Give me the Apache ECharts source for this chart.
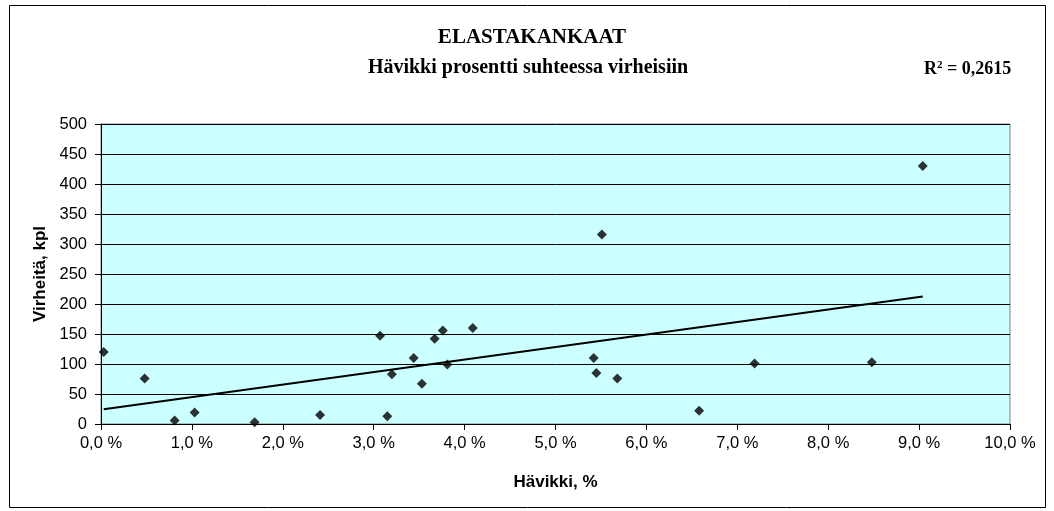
<!DOCTYPE html>
<html>
<head>
<meta charset="utf-8">
<script src="https://cdn.jsdelivr.net/npm/echarts@6/dist/echarts.min.js"></script>
<style>
html, body { margin: 0; padding: 0; background: #fff; }
#chart { width: 1054px; height: 511px; }
</style>
</head>
<body>
<div id="chart"></div>
<script>
// Hävikki (%) for each fabric lot
const wastePct = [0.03, 0.48, 0.81, 1.03, 1.69, 2.41, 3.07, 3.15, 3.20, 3.44, 3.53, 3.67, 3.76, 3.81, 4.09, 5.42, 5.45, 5.51, 5.68, 6.58, 7.19, 8.48, 9.04];
// Virheitä (kpl) for the same lots
const defects = [120, 76, 6, 19, 3, 15, 147, 13, 83, 110, 67, 142, 156, 99, 160, 110, 85, 316, 76, 22, 101, 103, 430];
const xTicks = [0, 1, 2, 3, 4, 5, 6, 7, 8, 9, 10];
const yTicks = [0, 50, 100, 150, 200, 250, 300, 350, 400, 450, 500];

const chartTitle = 'ELASTAKANKAAT';
const chartSubtitle = 'Hävikki prosentti suhteessa virheisiin';
const rSquaredText = '0,2615';

// Least-squares linear trend through the points
function linearFit(xs, ys) {
  const n = xs.length;
  let sx = 0, sy = 0, sxx = 0, sxy = 0;
  for (let i = 0; i < n; i++) { sx += xs[i]; sy += ys[i]; sxx += xs[i] * xs[i]; sxy += xs[i] * ys[i]; }
  const slope = (n * sxy - sx * sy) / (n * sxx - sx * sx);
  const intercept = (sy - slope * sx) / n;
  return { slope, intercept };
}
const fit = linearFit(wastePct, defects);
const xMin = Math.min(...wastePct), xMax = Math.max(...wastePct);
const trend = [[xMin, fit.intercept + fit.slope * xMin], [xMax, fit.intercept + fit.slope * xMax]];

const points = wastePct.map((x, i) => [x, defects[i]]);

const chart = echarts.init(document.getElementById('chart'));
const sans = 'Liberation Sans, Arial, sans-serif';
const serif = 'Liberation Serif, Times New Roman, serif';

chart.setOption({
  backgroundColor: '#ffffff',
  animation: false,
  graphic: [
    { type: 'rect', shape: { x: 9.5, y: 5.5, width: 1036, height: 502 }, style: { fill: 'none', stroke: '#000', lineWidth: 1 }, z: -1 },
    { type: 'text', x: 532, y: 38, style: { text: chartTitle, font: 'bold 21px ' + serif, fill: '#000', textAlign: 'center', textVerticalAlign: 'middle' } },
    { type: 'text', x: 528, y: 68, style: { text: chartSubtitle, font: 'bold 20px ' + serif, fill: '#000', textAlign: 'center', textVerticalAlign: 'middle' } },
    {
      type: 'text', x: 924, y: 69,
      style: {
        text: '{r|R}{s|2}{r| = ' + rSquaredText + '}',
        textVerticalAlign: 'middle',
        rich: {
          r: { fontFamily: serif, fontWeight: 'bold', fontSize: 18, fill: '#000', verticalAlign: 'bottom' },
          s: { fontFamily: serif, fontWeight: 'bold', fontSize: 11, fill: '#000', verticalAlign: 'top', padding: [0, 0, 6, 0] }
        }
      }
    }
  ],
  grid: {
    left: 101, right: 44, top: 124, bottom: 87,
    show: true, backgroundColor: '#CCFFFF', borderColor: '#808080', borderWidth: 1
  },
  xAxis: {
    type: 'value', min: xTicks[0], max: xTicks[xTicks.length - 1], interval: 1,
    name: 'Hävikki, %', nameLocation: 'middle', nameGap: 50,
    nameTextStyle: { fontFamily: sans, fontWeight: 'bold', fontSize: 17, color: '#000' },
    axisLine: { show: true, onZero: false, lineStyle: { color: '#000', width: 1 } },
    axisTick: { show: true, length: 6, lineStyle: { color: '#000' } },
    axisLabel: {
      margin: 11, fontFamily: sans, fontSize: 16.5, color: '#000',
      formatter: v => v.toFixed(1).replace('.', ',') + ' %'
    },
    splitLine: { show: false }
  },
  yAxis: {
    type: 'value', min: yTicks[0], max: yTicks[yTicks.length - 1], interval: 50,
    name: 'Virheitä, kpl', nameLocation: 'middle', nameGap: 52, nameRotate: 90,
    nameTextStyle: { fontFamily: sans, fontWeight: 'bold', fontSize: 17, color: '#000' },
    axisLine: { show: true, lineStyle: { color: '#000', width: 1 } },
    axisTick: { show: true, length: 6, lineStyle: { color: '#000' } },
    axisLabel: { margin: 14, fontFamily: sans, fontSize: 16.5, color: '#000' },
    splitLine: { show: true, lineStyle: { color: '#000', width: 1 } }
  },
  series: [
    {
      type: 'scatter', data: points, symbol: 'diamond', symbolSize: 10,
      itemStyle: { color: '#000' }, z: 3
    },
    {
      type: 'line', data: trend, symbol: 'none', silent: true,
      lineStyle: { color: '#000', width: 2 }, z: 2
    }
  ]
});
</script>
</body>
</html>
